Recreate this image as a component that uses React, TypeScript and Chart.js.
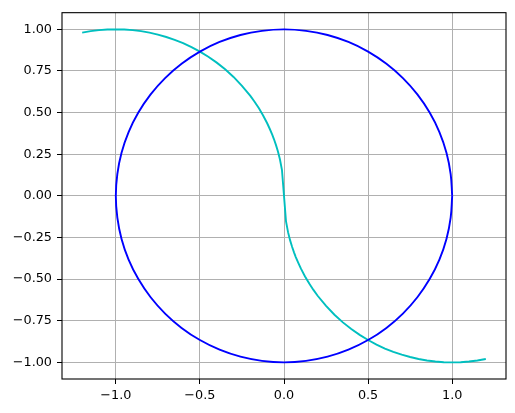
import React, { useEffect, useRef } from "react";
import { Chart, registerables } from "chart.js";

Chart.register(...registerables);

const xTickValues = [-1, -0.5, 0, 0.5, 1];
const yTickValues = [-1, -0.75, -0.5, -0.25, 0, 0.25, 0.5, 0.75, 1];

const circleX = [1, 0.991, 0.966, 0.924, 0.866, 0.793, 0.707, 0.609, 0.5, 0.383, 0.259, 0.131, 0,
  -0.131, -0.259, -0.383, -0.5, -0.609, -0.707, -0.793, -0.866, -0.924, -0.966, -0.991, -1,
  -0.991, -0.966, -0.924, -0.866, -0.793, -0.707, -0.609, -0.5, -0.383, -0.259, -0.131, 0,
  0.131, 0.259, 0.383, 0.5, 0.609, 0.707, 0.793, 0.866, 0.924, 0.966, 0.991, 1];
const circleY = [0, 0.131, 0.259, 0.383, 0.5, 0.609, 0.707, 0.793, 0.866, 0.924, 0.966, 0.991, 1,
  0.991, 0.966, 0.924, 0.866, 0.793, 0.707, 0.609, 0.5, 0.383, 0.259, 0.131, 0,
  -0.131, -0.259, -0.383, -0.5, -0.609, -0.707, -0.793, -0.866, -0.924, -0.966, -0.991, -1,
  -0.991, -0.966, -0.924, -0.866, -0.793, -0.707, -0.609, -0.5, -0.383, -0.259, -0.131, 0];

const curveX = [-1.2, -1.15, -1.1, -1.05, -1.0, -0.95, -0.9, -0.85, -0.8, -0.75, -0.7, -0.65, -0.6,
  -0.55, -0.5, -0.45, -0.4, -0.35, -0.3, -0.25, -0.2, -0.175, -0.15, -0.125, -0.1, -0.085, -0.07,
  -0.06, -0.048, -0.036, -0.024, -0.012,
  0.012, 0.024, 0.036, 0.048, 0.06, 0.07, 0.085, 0.1, 0.125, 0.15, 0.175, 0.2, 0.25, 0.3, 0.35,
  0.4, 0.45, 0.5, 0.55, 0.6, 0.65, 0.7, 0.75, 0.8, 0.85, 0.9, 0.95, 1.0, 1.05, 1.1, 1.15, 1.2];
const curveY = [0.98, 0.989, 0.995, 0.999, 1.0, 0.999, 0.995, 0.989, 0.98, 0.968, 0.954, 0.937, 0.917,
  0.893, 0.866, 0.835, 0.8, 0.76, 0.714, 0.661, 0.6, 0.565, 0.527, 0.484, 0.436, 0.403, 0.368,
  0.341, 0.306, 0.266, 0.218, 0.154,
  -0.154, -0.218, -0.266, -0.306, -0.341, -0.368, -0.403, -0.436, -0.484, -0.527, -0.565, -0.6,
  -0.661, -0.714, -0.76, -0.8, -0.835, -0.866, -0.893, -0.917, -0.937, -0.954, -0.968, -0.98,
  -0.989, -0.995, -0.999, -1.0, -0.999, -0.995, -0.989, -0.98];

const MINUS = "\u2212";
const fmt = (v: number, d: number) => (v < 0 ? MINUS : "") + Math.abs(v).toFixed(d);

const framePlugin = {
  id: "frame",
  afterDraw(chart: any) {
    const { ctx, chartArea } = chart;
    ctx.save();
    ctx.strokeStyle = "#000000";
    ctx.lineWidth = 1.1;
    ctx.strokeRect(chartArea.left, chartArea.top, chartArea.right - chartArea.left, chartArea.bottom - chartArea.top);
    ctx.restore();
  },
};

export default function App() {
  const ref = useRef<HTMLCanvasElement>(null);
  useEffect(() => {
    if (!ref.current) return;
    const font = { family: "'DejaVu Sans', sans-serif", size: 12.8 };
    const chart = new Chart(ref.current, {
      type: "scatter",
      data: {
        datasets: [
          {
            data: circleX.map((x, i) => ({ x, y: circleY[i] })),
            showLine: true,
            borderColor: "#0000ff",
            borderWidth: 1.9,
            pointRadius: 0,
            tension: 0.4,
            fill: false,
          },
          {
            data: curveX.map((x, i) => ({ x, y: curveY[i] })),
            showLine: true,
            borderColor: "#00bfbf",
            borderWidth: 1.9,
            pointRadius: 0,
            fill: false,
          },
        ],
      },
      options: {
        animation: false,
        responsive: false,
        layout: { padding: { left: 0, right: 9, top: 10, bottom: 0 } },
        plugins: { legend: { display: false }, tooltip: { enabled: false } },
        scales: {
          x: {
            type: "linear",
            min: -1.32,
            max: 1.32,
            afterBuildTicks: (s: any) => { s.ticks = xTickValues.map((v) => ({ value: v })); },
            afterFit: (s: any) => { s.height = 34; },
            border: { display: false },
            grid: { color: "#b0b0b0", lineWidth: 1, tickColor: "#000000", tickLength: 5, tickWidth: 1 },
            ticks: { autoSkip: false, maxRotation: 0, padding: 4, color: "#000000", font, callback: (v: any) => fmt(Number(v), 1) },
          },
          y: {
            type: "linear",
            min: -1.1,
            max: 1.1,
            afterBuildTicks: (s: any) => { s.ticks = yTickValues.map((v) => ({ value: v })); },
            afterFit: (s: any) => { s.width = 62; },
            border: { display: false },
            grid: { color: "#b0b0b0", lineWidth: 1, tickColor: "#000000", tickLength: 5, tickWidth: 1 },
            ticks: { autoSkip: false, padding: 5, color: "#000000", font, callback: (v: any) => fmt(Number(v), 2) },
          },
        },
      },
      plugins: [framePlugin],
    });
    return () => chart.destroy();
  }, []);
  return (
    <div style={{ position: "fixed", left: 0, top: 0, width: 515, height: 413, background: "#ffffff" }}>
      <canvas ref={ref} width={515} height={413} style={{ width: 515, height: 413 }} />
    </div>
  );
}
